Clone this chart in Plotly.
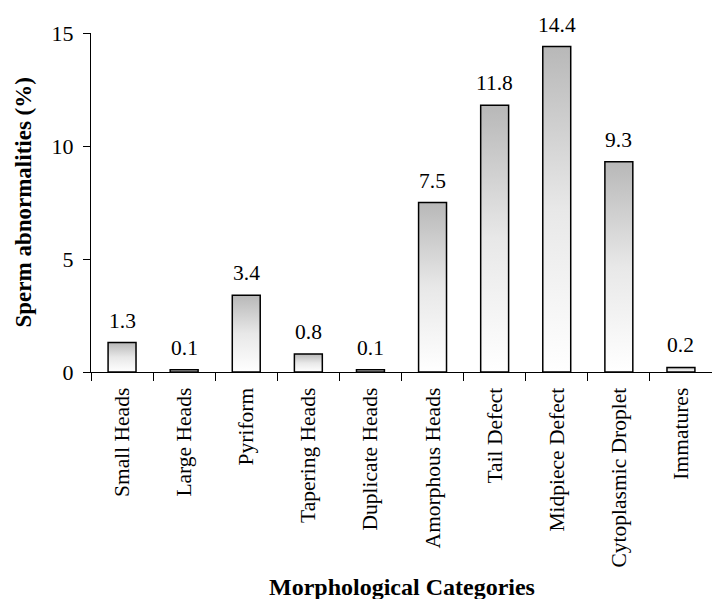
import plotly.graph_objects as go

categories = ["Small Heads", "Large Heads", "Pyriform", "Tapering Heads", "Duplicate Heads",
              "Amorphous Heads", "Tail Defect", "Midpiece Defect", "Cytoplasmic Droplet", "Immatures"]
values = [1.3, 0.1, 3.4, 0.8, 0.1, 7.5, 11.8, 14.4, 9.3, 0.2]
y_ticks = [0, 5, 10, 15]

FONT = "Liberation Serif, Times New Roman, serif"
BAR_W = 0.45

fig = go.Figure()

# gradient fills (drawn on the hidden linear axis underneath the bars)
for i, v in enumerate(values):
    h = BAR_W / 2
    fig.add_trace(go.Scatter(
        x=[i - h, i - h, i + h, i + h, i - h], y=[0, v, v, 0, 0],
        mode="lines", line=dict(width=0), fill="toself",
        fillgradient=dict(type="vertical",
                          colorscale=[[0, "#ffffff"], [0.5, "#e8e8e8"], [1, "#b8b8b8"]]),
        hoverinfo="skip", showlegend=False, xaxis="x", yaxis="y"))

# outlined bars on the category axis
fig.add_trace(go.Bar(
    x=categories, y=values, width=BAR_W,
    marker=dict(color="rgba(0,0,0,0)", line=dict(color="black", width=1.5)),
    showlegend=False, xaxis="x2", yaxis="y"))

annotations = []
for c, v in zip(categories, values):
    annotations.append(dict(x=c, y=v, xref="x2", yref="y", text=f"{v}", showarrow=False,
                            yanchor="bottom", yshift=8, font=dict(family=FONT, size=21.5, color="black")))
annotations.append(dict(x=0, y=0.5, xref="paper", yref="paper", xanchor="center", yanchor="middle",
                        xshift=-68, textangle=-90, showarrow=False,
                        text="<b>Sperm abnormalities (%)</b>",
                        font=dict(family=FONT, size=23, color="black")))
annotations.append(dict(x=0.5, y=0, xref="paper", yref="paper", xanchor="center", yanchor="bottom",
                        yshift=-230, showarrow=False,
                        text="<b>Morphological Categories</b>",
                        font=dict(family=FONT, size=24, color="black")))

fig.update_layout(
    width=712, height=599,
    margin=dict(l=91, r=0, t=33, b=227),
    paper_bgcolor="white", plot_bgcolor="white",
    font=dict(family=FONT, size=21, color="black"),
    xaxis=dict(type="linear", range=[-0.5, 9.5], visible=False, fixedrange=True),
    xaxis2=dict(type="category", overlaying="x", anchor="y", side="bottom",
                range=[-0.5, 9.5], showline=True, linecolor="black", linewidth=1.3,
                ticks="outside", tickson="boundaries", ticklen=8, tickwidth=1.3, tickcolor="black",
                tickangle=-90, ticklabelstandoff=6,
                tickfont=dict(family=FONT, size=21.5, color="black"),
                showgrid=False, zeroline=False),
    yaxis=dict(range=[0, 15], tickvals=y_ticks, showline=True, linecolor="black", linewidth=1.3,
               ticks="outside", ticklen=7, tickwidth=1.3, tickcolor="black",
               ticklabelstandoff=5, tickfont=dict(family=FONT, size=22, color="black"),
               showgrid=False, zeroline=False),
    annotations=annotations,
)

fig.write_html("out.html", config={"displayModeBar": False},
               post_script="document.body.style.margin='0';document.body.style.overflow='hidden';")
